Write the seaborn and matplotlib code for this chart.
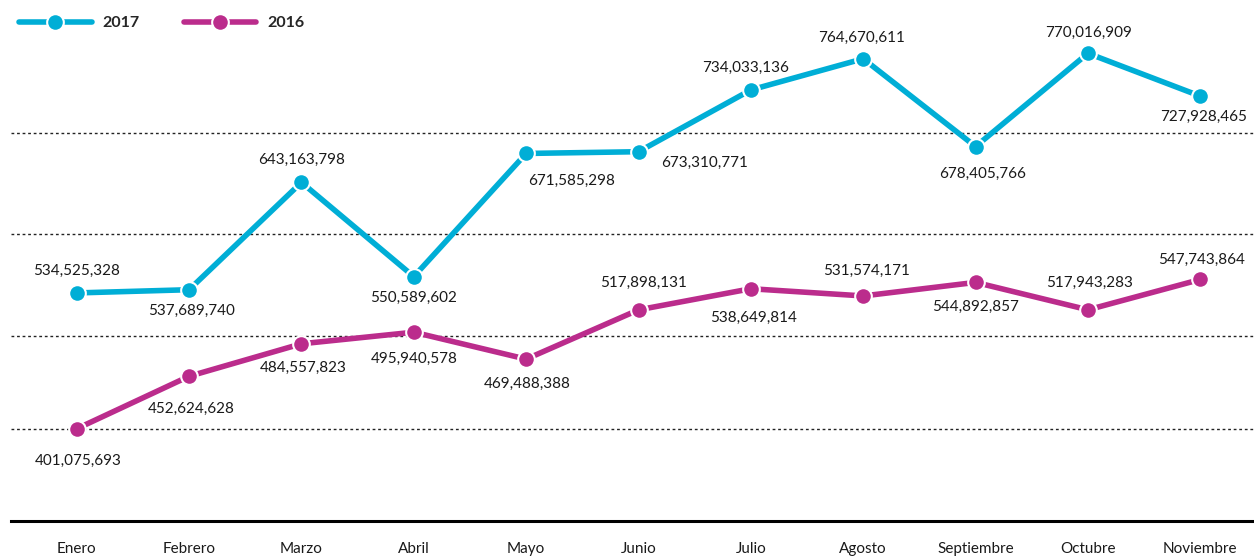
import pandas as pd
import seaborn as sns
import matplotlib.pyplot as plt

meses = ["Enero", "Febrero", "Marzo", "Abril", "Mayo", "Junio", "Julio",
         "Agosto", "Septiembre", "Octubre", "Noviembre"]
v2017 = [534525328, 537689740, 643163798, 550589602, 671585298, 673310771,
         734033136, 764670611, 678405766, 770016909, 727928465]
v2016 = [401075693, 452624628, 484557823, 495940578, 469488388, 517898131,
         538649814, 531574171, 544892857, 517943283, 547743864]

# label offsets in pixels (dx, dy), positive dy = up
off2017 = [(0, 22), (2, -21), (0, 22), (0, -21), (45, -27), (66, -11),
           (-5, 22), (-2, 21), (7, -27), (1, 20), (3, -21)]
off2016 = [(1, -32), (2, -33), (2, -24), (0, -27), (1, -25), (5, 27),
           (3, -29), (3, 25), (0, -25), (2, 27), (1, 20)]

colores = {"2017": "#00AED6", "2016": "#BB2C8C"}

df = pd.DataFrame({
    "mes": meses * 2,
    "valor": v2017 + v2016,
    "anio": ["2017"] * len(meses) + ["2016"] * len(meses),
})

sns.set_style("white")
plt.rcParams["font.family"] = ["Lato", "DejaVu Sans"]

fig = plt.figure(figsize=(12.54, 5.59), dpi=100)
ax = fig.add_axes([11 / 1254, 38 / 559, 1 - 11 / 1254, 1 - 38 / 559])

sns.lineplot(data=df, x="mes", y="valor", hue="anio", hue_order=["2017", "2016"],
             palette=colores, marker="o", markersize=12, markeredgecolor="white",
             markeredgewidth=1.5, linewidth=4, sort=False, ax=ax,
             solid_capstyle="round")

for vals, offs in [(v2017, off2017), (v2016, off2016)]:
    for i, (v, (dx, dy)) in enumerate(zip(vals, offs)):
        ax.annotate(f"{v:,}", (i, v), xytext=(dx, dy), textcoords="offset pixels",
                    ha="center", va="center", fontsize=11, color="#1a1a1a")

ax.set_xlim(-0.585, 10.478)
ax.set_ylim(310.4e6, 822.4e6)
ax.set_yticks([400.8e6, 492e6, 592e6, 692e6])
ax.set_yticklabels([])
ax.yaxis.grid(True, linestyle=(0, (2, 2)), color="#222222", linewidth=1)
ax.xaxis.grid(False)
ax.tick_params(axis="x", length=0, pad=15, labelsize=11, labelcolor="#1a1a1a")
ax.tick_params(axis="y", length=0)
ax.set_xlabel("")
ax.set_ylabel("")
for s in ["top", "right", "left"]:
    ax.spines[s].set_visible(False)
ax.spines["bottom"].set_color("black")
ax.spines["bottom"].set_linewidth(2.2)

leg = ax.legend(loc="upper left", bbox_to_anchor=(0.0, 1 - 8 / 521), ncol=2,
                frameon=False, handlelength=5.2, handletextpad=0.8,
                columnspacing=3.2, borderaxespad=0.3, borderpad=0.3, title=None)
for t in leg.get_texts():
    t.set_fontweight("bold")
    t.set_fontsize(11.5)

fig.savefig("out.png", dpi=100)
